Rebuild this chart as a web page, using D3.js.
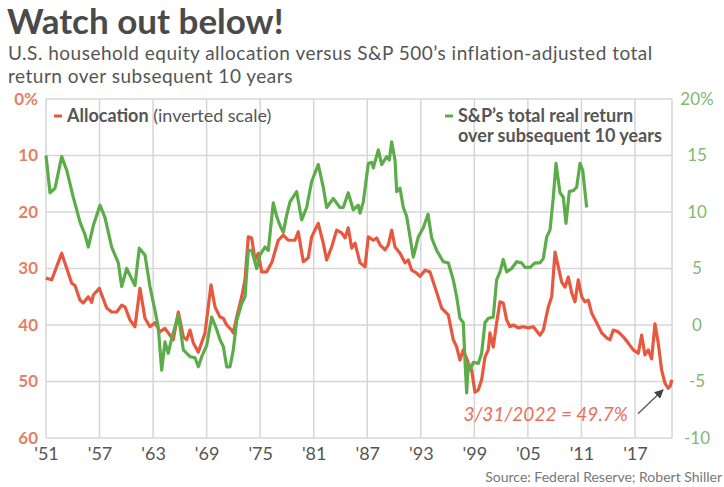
<!DOCTYPE html>
<html>
<head>
<meta charset="utf-8">
<script src="https://cdnjs.cloudflare.com/ajax/libs/d3/7.8.5/d3.min.js"></script>
<style>
  body { margin: 0; background: #fff; }
  text { font-family: Lato, "Open Sans", sans-serif; }
</style>
</head>
<body>
<script>
var width = 724, height = 487;
var plot = {left: 46, right: 672, top: 99, bottom: 438};

// x axis ticks
var xTickYears = [1951, 1957, 1963, 1969, 1975, 1981, 1987, 1993, 1999, 2005, 2011, 2017];
var xTickLabels = ["'51", "'57", "'63", "'69", "'75", "'81", "'87", "'93", "'99", "'05", "'11", "'17"];
var leftTicks = [0, 10, 20, 30, 40, 50, 60];
var leftTickLabels = ["0%", "10", "20", "30", "40", "50", "60"];
var rightTicks = [20, 15, 10, 5, 0, -5, -10];
var rightTickLabels = ["20%", "15", "10", "5", "0", "-5", "-10"];

// household equity allocation, % (plotted on inverted left scale)
var allocYears = [1951.0, 1951.64, 1952.76, 1953.88, 1954.25, 1954.81, 1955.18, 1955.74, 1956.12, 1956.30,
  1956.97, 1957.80, 1958.36, 1958.92, 1959.48, 1959.85, 1960.41, 1960.97, 1961.53, 1962.09,
  1962.65, 1963.21, 1963.77, 1964.33, 1964.70, 1965.26, 1965.83, 1966.39, 1966.77, 1967.14,
  1967.51, 1968.07, 1968.82, 1969.49, 1969.94, 1970.50, 1970.87, 1971.25, 1971.81, 1971.99,
  1972.37, 1972.93, 1973.30, 1973.67, 1974.05, 1974.42, 1974.79, 1975.17, 1975.73, 1976.29,
  1977.03, 1977.59, 1978.15, 1978.90, 1979.27, 1979.83, 1980.39, 1980.77, 1981.51, 1982.07,
  1982.45, 1983.01, 1983.57, 1984.14, 1984.51, 1984.87, 1985.26, 1985.63, 1986.19, 1986.75,
  1987.12, 1987.68, 1988.06, 1988.43, 1988.99, 1989.36, 1989.74, 1990.11, 1990.67, 1991.23,
  1991.60, 1991.98, 1992.54, 1992.91, 1993.47, 1994.03, 1994.59, 1995.34, 1996.08, 1996.64,
  1997.02, 1997.39, 1997.76, 1998.32, 1998.70, 1999.07, 1999.44, 1999.82, 2000.19, 2000.56,
  2000.75, 2001.12, 2001.50, 2001.87, 2002.24, 2002.62, 2002.99, 2003.37, 2003.92, 2004.49,
  2005.04, 2005.61, 2006.36, 2006.73, 2007.29, 2007.67, 2008.04, 2008.41, 2008.79, 2009.16,
  2009.53, 2009.91, 2010.28, 2010.65, 2011.03, 2011.40, 2011.77, 2012.15, 2012.71, 2013.27,
  2013.83, 2014.20, 2014.57, 2015.13, 2015.69, 2016.25, 2016.81, 2017.37, 2017.75, 2018.12,
  2018.49, 2018.87, 2019.24, 2019.61, 2019.99, 2020.36, 2020.73, 2020.95, 2021.15];
var allocValues = [31.7, 32, 27.3, 32.6, 33, 35.6, 36.1, 35, 36, 34.7,
  33.5, 37, 37.7, 37.7, 36.5, 36.8, 39.1, 40.3, 33.5, 38.8,
  40.3, 39.6, 41.2, 40.6, 41.4, 42.6, 37.7, 42.1, 42.6, 40.9,
  43.2, 44.8, 41.4, 32.9, 36.8, 38.6, 38.8, 40, 40.9, 41.4,
  38.6, 35, 32, 24.4, 24.6, 28.5, 27.3, 30.6, 30.6, 29,
  25, 24.1, 25, 25, 23.5, 28.8, 28.1, 24.4, 22, 25.5,
  28.5, 26.2, 23.2, 23.7, 24.6, 22.8, 26.4, 25.5, 29, 29.7,
  24.4, 25, 24.6, 25.8, 26.7, 25.8, 23.2, 26.2, 27.3, 29,
  28.5, 30.3, 30.8, 31.4, 30.3, 30.6, 33.3, 37, 38.2, 42.6,
  43.9, 46.2, 44.4, 46.7, 48, 51.9, 51.5, 49.7, 45.7, 44.4,
  41.4, 43.9, 39.6, 35.9, 36.1, 39.1, 40.3, 40, 40.5, 40.3,
  40.5, 40.3, 41.8, 40.9, 36.8, 35, 27.1, 29.7, 32.4, 33.3,
  31.5, 34.3, 35.9, 32, 35, 35.9, 35.6, 37.9, 39.6, 41.4,
  42.3, 42.6, 40.9, 41.2, 42.1, 43.2, 44.4, 45, 41.8, 45.3,
  44.4, 46, 39.8, 43.2, 48, 50.3, 51.2, 50.8, 49.7];

// S&P 500 real total return over the next 10 years, % per year (right scale)
var returnYears = [1951.0, 1951.45, 1952.01, 1952.76, 1953.32, 1954.06, 1954.81, 1955.37, 1955.74, 1956.30,
  1957.05, 1957.61, 1958.36, 1959.10, 1959.48, 1960.04, 1960.97, 1961.45, 1962.09, 1962.65,
  1963.21, 1963.58, 1963.96, 1964.33, 1964.70, 1965.08, 1965.83, 1966.39, 1967.14, 1967.70,
  1968.07, 1968.45, 1969.01, 1969.57, 1970.13, 1970.50, 1970.87, 1971.25, 1971.62, 1971.99,
  1972.37, 1972.93, 1973.30, 1973.67, 1974.05, 1974.61, 1974.98, 1975.54, 1975.91, 1976.47,
  1976.85, 1977.22, 1977.59, 1977.97, 1978.34, 1979.09, 1979.65, 1980.21, 1980.77, 1981.51,
  1982.07, 1982.45, 1983.19, 1983.94, 1984.31, 1984.87, 1985.43, 1985.99, 1986.19, 1986.56,
  1987.12, 1987.50, 1987.68, 1988.24, 1988.62, 1989.18, 1989.47, 1989.74, 1990.11, 1990.30,
  1990.67, 1991.04, 1991.42, 1991.79, 1992.16, 1992.72, 1993.28, 1993.81, 1994.22, 1994.78,
  1995.52, 1996.08, 1996.64, 1997.02, 1997.39, 1997.76, 1997.95, 1998.14, 1998.32, 1998.51,
  1998.88, 1999.44, 1999.82, 2000.19, 2000.56, 2001.12, 2001.50, 2001.87, 2002.24, 2002.62,
  2003.18, 2003.74, 2004.30, 2004.67, 2005.24, 2005.80, 2006.36, 2006.73, 2007.11, 2007.48,
  2007.85, 2008.15, 2008.60, 2008.97, 2009.27, 2009.64, 2010.09, 2010.47, 2010.84, 2011.14,
  2011.59];
var returnValues = [15.0, 11.7, 12.1, 14.9, 13.7, 11.3, 9.1, 8.0, 6.9, 8.8,
  10.6, 9.5, 6.9, 5.5, 3.4, 5.0, 3.5, 6.8, 6.2, 3.4,
  1.3, -0.2, -4.0, -1.5, -2.5, -1.2, 0.9, -2.2, -2.8, -2.9,
  -3.7, -2.8, -1.8, 0.7, -0.4, -1.3, -1.9, -3.7, -3.7, -2.2,
  0.4, 1.9, 2.5, 6.6, 6.6, 5.0, 6.2, 6.9, 6.6, 10.8,
  9.6, 8.8, 8.2, 9.7, 10.9, 11.8, 9.3, 10.4, 12.7, 14.2,
  12.2, 10.4, 11.2, 10.4, 10.4, 11.7, 10.2, 10.6, 9.9, 10.9,
  14.3, 14.4, 13.9, 15.5, 14.2, 14.9, 14.6, 16.2, 14.6, 11.8,
  12.1, 10.4, 9.6, 7.8, 6.0, 7.8, 8.6, 9.8, 7.7, 6.6,
  5.6, 5.5, 4.0, 2.5, 0.6, 0.2, -3.1, -6.0, -3.5, -4.0,
  -3.3, -3.4, -2.5, 0.2, 0.6, 0.7, 4.0, 4.7, 5.8, 4.7,
  5.0, 5.6, 5.5, 5.1, 5.1, 5.5, 5.5, 5.9, 7.8, 8.4,
  11.3, 14.3, 11.7, 11.3, 9.0, 11.8, 11.9, 12.2, 14.3, 13.7,
  10.4];

var redColor = "#e8583f", greenColor = "#5cad4a";
var gridColor = "#d6d6d6";

var svg = d3.select("body").append("svg")
    .attr("width", width)
    .attr("height", height);

var x = d3.scaleLinear().domain([1951, 2021.15]).range([plot.left, plot.right]);
var yLeft = d3.scaleLinear().domain([0, 60]).range([plot.top, plot.bottom]);
var yRight = d3.scaleLinear().domain([20, -10]).range([plot.top, plot.bottom]);

// titles
svg.append("text")
    .attr("x", 7).attr("y", 34)
    .style("font-size", "35px").style("font-weight", "bold")
    .style("fill", "#4a4a4a")
    .text("Watch out below!");

svg.append("text")
    .attr("x", 8).attr("y", 60)
    .style("font-size", "19px").style("letter-spacing", "0.5px").style("fill", "#555")
    .text("U.S. household equity allocation versus S&P 500\u2019s inflation-adjusted total");
svg.append("text")
    .attr("x", 8).attr("y", 83)
    .style("font-size", "19px").style("letter-spacing", "0.5px").style("fill", "#555")
    .text("return over subsequent 10 years");

// grid
var grid = svg.append("g").attr("class", "grid");
grid.selectAll(".hgrid")
    .data(leftTicks)
    .enter().append("line")
    .attr("x1", plot.left).attr("x2", plot.right)
    .attr("y1", function(d) { return yLeft(d); })
    .attr("y2", function(d) { return yLeft(d); })
    .style("stroke", gridColor).style("stroke-width", 1.5);
grid.selectAll(".vgrid")
    .data(xTickYears)
    .enter().append("line")
    .attr("x1", function(d) { return x(d); })
    .attr("x2", function(d) { return x(d); })
    .attr("y1", plot.top).attr("y2", plot.bottom)
    .style("stroke", gridColor).style("stroke-width", 1.5);
grid.append("line")
    .attr("x1", plot.right).attr("x2", plot.right)
    .attr("y1", plot.top).attr("y2", plot.bottom)
    .style("stroke", gridColor).style("stroke-width", 1.5);

// axis labels
svg.append("g")
    .attr("transform", "translate(" + plot.left + ",0)")
    .call(d3.axisLeft(yLeft).tickValues(leftTicks).tickSize(0).tickPadding(8)
        .tickFormat(function(d, i) { return leftTickLabels[i]; }))
    .call(g => g.select(".domain").remove())
    .selectAll("text")
    .style("font-family", "Lato, sans-serif")
    .style("font-size", "17px").style("font-weight", "bold")
    .style("fill", "#e57f68");

svg.append("g")
    .attr("transform", "translate(" + plot.right + ",0)")
    .call(d3.axisRight(yRight).tickValues(rightTicks).tickSize(0).tickPadding(25)
        .tickFormat(function(d, i) { return rightTickLabels[i]; }))
    .call(g => g.select(".domain").remove())
    .selectAll("text")
    .attr("text-anchor", "middle")
    .style("font-family", "Lato, sans-serif")
    .style("font-size", "17px")
    .style("fill", "#80b96f");

svg.append("g")
    .attr("transform", "translate(0," + plot.bottom + ")")
    .call(d3.axisBottom(x).tickValues(xTickYears).tickSize(0).tickPadding(9)
        .tickFormat(function(d, i) { return xTickLabels[i]; }))
    .call(g => g.select(".domain").remove())
    .selectAll("text")
    .style("font-family", "Lato, sans-serif")
    .style("font-size", "18px")
    .style("fill", "#555");

// lines
var allocLine = d3.line()
    .x(function(d, i) { return x(allocYears[i]); })
    .y(function(d) { return yLeft(d); });
var returnLine = d3.line()
    .x(function(d, i) { return x(returnYears[i]); })
    .y(function(d) { return yRight(d); });

svg.append("path")
    .datum(allocValues)
    .attr("d", allocLine)
    .style("fill", "none").style("stroke", redColor)
    .style("stroke-width", 3.2).style("stroke-linejoin", "round");

svg.append("path")
    .datum(returnValues)
    .attr("d", returnLine)
    .style("fill", "none").style("stroke", greenColor)
    .style("stroke-width", 3.2).style("stroke-linejoin", "round");

// legends
svg.append("line")
    .attr("x1", 54).attr("x2", 62).attr("y1", 116).attr("y2", 116)
    .style("stroke", redColor).style("stroke-width", 3);
var leg1 = svg.append("text")
    .attr("x", 67).attr("y", 122)
    .style("font-size", "18px").style("fill", "#555");
leg1.append("tspan").style("font-weight", "bold").text("Allocation");
leg1.append("tspan").text(" (inverted scale)");

svg.append("line")
    .attr("x1", 445).attr("x2", 453).attr("y1", 116).attr("y2", 116)
    .style("stroke", greenColor).style("stroke-width", 3);
svg.append("text")
    .attr("x", 458).attr("y", 122)
    .style("font-size", "18px").style("font-weight", "bold").style("fill", "#555")
    .text("S&P\u2019s total real return");
svg.append("text")
    .attr("x", 458).attr("y", 142)
    .style("font-size", "18px").style("font-weight", "bold").style("fill", "#555")
    .text("over subsequent 10 years");

// annotation for latest value
var lastYear = allocYears[allocYears.length - 1];
var lastValue = allocValues[allocValues.length - 1];

svg.append("defs").append("marker")
    .attr("id", "arrow")
    .attr("viewBox", "0 0 10 10")
    .attr("refX", 9).attr("refY", 5)
    .attr("markerWidth", 7).attr("markerHeight", 7)
    .attr("orient", "auto")
    .append("path")
    .attr("d", "M0,0L10,5L0,10z")
    .style("fill", "#444");

svg.append("line")
    .attr("x1", x(lastYear) - 34).attr("y1", yLeft(lastValue) + 34)
    .attr("x2", x(lastYear) - 9).attr("y2", yLeft(lastValue) + 10)
    .style("stroke", "#555").style("stroke-width", 1.3)
    .attr("marker-end", "url(#arrow)");

svg.append("text")
    .attr("x", 628).attr("y", 421)
    .attr("text-anchor", "end")
    .style("font-size", "19px").style("font-style", "italic")
    .style("fill", "#e8705a")
    .text("3/31/2022 = " + lastValue + "%");

svg.append("text")
    .attr("x", 722).attr("y", 482)
    .attr("text-anchor", "end")
    .style("font-size", "14px").style("fill", "#777")
    .text("Source: Federal Reserve; Robert Shiller");
</script>
</body>
</html>
